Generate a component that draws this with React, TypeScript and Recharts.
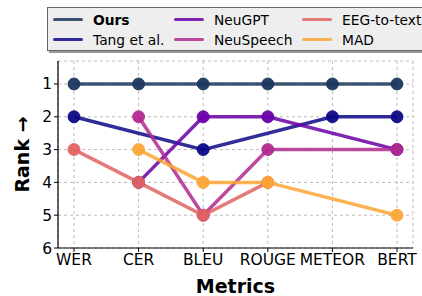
import React from 'react';
import {
  LineChart,
  Line,
  XAxis,
  YAxis,
  CartesianGrid,
} from 'recharts';

const metrics = ['WER', 'CER', 'BLEU', 'ROUGE', 'METEOR', 'BERT'];
const rankTicks = [1, 2, 3, 4, 5, 6];

const ours = [1, 1, 1, 1, 1, 1];
const tang = [2, null, 3, null, 2, 2];
const neuGpt = [null, 4, 2, 2, null, 3];
const neuSpeech = [null, 2, 5, 3, null, 3];
const eegToText = [3, 4, 5, 4, null, null];
const mad = [null, 3, 4, 4, null, 5];

const series = [
  { key: 'ours', name: 'Ours', color: '#1b365d', values: ours, bold: true },
  { key: 'tang', name: 'Tang et al.', color: '#0d0887', values: tang },
  { key: 'neugpt', name: 'NeuGPT', color: '#6a00a8', values: neuGpt },
  { key: 'neuspeech', name: 'NeuSpeech', color: '#b12a90', values: neuSpeech },
  { key: 'eeg', name: 'EEG-to-text', color: '#e16462', values: eegToText },
  { key: 'mad', name: 'MAD', color: '#fca636', values: mad },
];

const data = metrics.map((m, i) => {
  const row: Record<string, string | number | null> = { name: m };
  series.forEach((s) => {
    row[s.key] = s.values[i];
  });
  return row;
});

const FONT = '"DejaVu Sans", sans-serif';

// legend laid out column-major like matplotlib ncol=3
const LegendBox = () => {
  const cols = [series.slice(0, 2), series.slice(2, 4), series.slice(4, 6)];
  const colLeft = [5, 126, 254];
  return (
    <div
      style={{
        position: 'absolute',
        left: 47,
        top: 7,
        width: 390,
        height: 42,
        background: '#eeeeee',
        border: '1px solid #666',
        boxShadow: '2px 2px 0 #999',
        fontFamily: FONT,
        fontSize: 13.8,
        color: '#000',
        zIndex: 2,
      }}
    >
      {cols.map((col, ci) =>
        col.map((s, ri) => (
          <div
            key={s.key}
            style={{
              position: 'absolute',
              left: colLeft[ci],
              top: 2 + ri * 20,
              display: 'flex',
              alignItems: 'center',
              height: 19,
              whiteSpace: 'nowrap',
            }}
          >
            <span
              style={{
                display: 'inline-block',
                width: 30,
                height: 3,
                borderRadius: 2,
                background: s.color,
                opacity: 0.85,
                marginRight: 10,
              }}
            />
            <span style={{ fontWeight: s.bold ? 'bold' : 'normal' }}>{s.name}</span>
          </div>
        ))
      )}
    </div>
  );
};

const App: React.FC = () => {
  return (
    <div style={{ position: 'absolute', left: 0, top: 0, width: 422, height: 296, background: '#fff', overflow: 'hidden' }}>
      <LegendBox />
      <LineChart
        width={422}
        height={296}
        data={data}
        margin={{ top: 61, right: 9, left: 8, bottom: 20 }}
        style={{ fontFamily: FONT }}
      >
        <CartesianGrid stroke="#bbbbbb" strokeDasharray="3 3" />
        <XAxis
          dataKey="name"
          padding={{ left: 16, right: 16 }}
          tick={{ fontSize: 15.5, fill: '#000' }}
          tickLine={{ stroke: '#000' }}
          tickSize={4}
          axisLine={{ stroke: '#000', strokeWidth: 1.2 }}
          height={28}
          interval={0}
          label={{
            value: 'Metrics',
            position: 'insideBottom',
            offset: -17,
            style: { fontSize: 19, fontWeight: 'bold', fill: '#000' },
          }}
        />
        <YAxis
          type="number"
          domain={[0.3, 6]}
          ticks={rankTicks}
          reversed
          allowDataOverflow
          width={50}
          tick={{ fontSize: 15.5, fill: '#000' }}
          tickLine={{ stroke: '#000' }}
          tickSize={4}
          axisLine={{ stroke: '#000', strokeWidth: 1.2 }}
          label={{
            value: 'Rank →',
            angle: -90,
            position: 'insideLeft',
            offset: 14,
            style: { fontSize: 19, fontWeight: 'bold', fill: '#000', textAnchor: 'middle' },
          }}
        />
        {series.map((s) => (
          <Line
            key={s.key}
            dataKey={s.key}
            name={s.name}
            type="linear"
            stroke={s.color}
            strokeOpacity={0.85}
            strokeWidth={3.5}
            connectNulls
            dot={{ r: 6, fill: s.color, stroke: s.color, strokeWidth: 1, fillOpacity: 0.95 }}
            activeDot={false}
            isAnimationActive={false}
          />
        ))}
      </LineChart>
    </div>
  );
};

export default App;
